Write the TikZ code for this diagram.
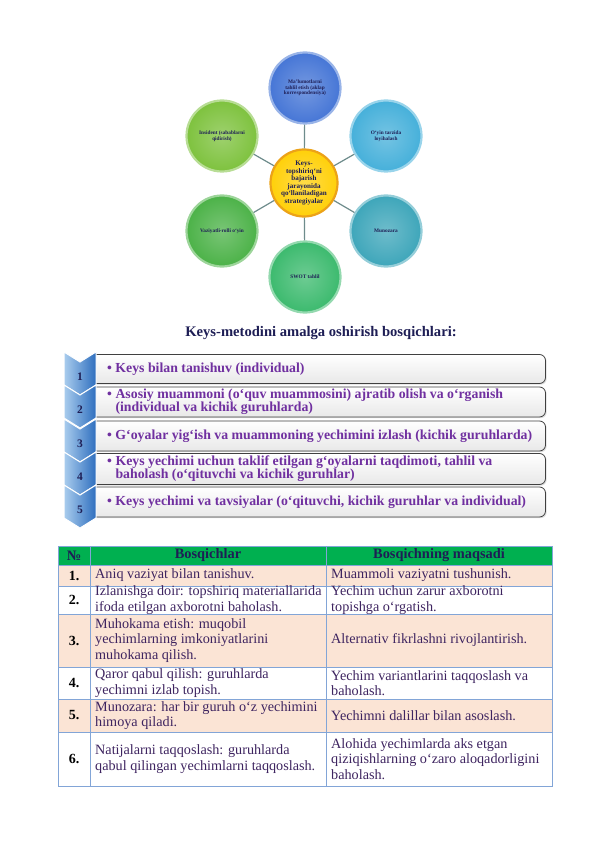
\documentclass[tikz,border=0pt]{standalone}
\usepackage{fontspec}
\setmainfont{Liberation Serif}
\usetikzlibrary{shadows}
\definecolor{cBlue}{RGB}{70,118,214}
\definecolor{cCyan}{RGB}{70,176,218}
\definecolor{cTeal}{RGB}{62,166,186}
\definecolor{cSea}{RGB}{60,186,110}
\definecolor{cGreen}{RGB}{76,178,72}
\definecolor{cLime}{RGB}{126,194,62}
\definecolor{cYel}{RGB}{255,208,10}
\definecolor{cOrg}{RGB}{236,162,24}
\definecolor{cNavy}{RGB}{30,30,85}
\definecolor{cPurp}{RGB}{112,48,160}
\definecolor{cBody}{RGB}{62,36,96}
\definecolor{cHead}{RGB}{0,176,80}
\definecolor{cPeach}{RGB}{251,228,213}
\definecolor{cGrid}{RGB}{130,165,215}
\definecolor{cLink}{RGB}{110,140,140}
\definecolor{chevL}{RGB}{170,205,238}
\definecolor{chevR}{RGB}{46,110,190}
\tikzset{
  circ/.style={circle, minimum size=71pt, inner sep=0pt, align=center,
     font=\fontsize{5.3}{5.7}\selectfont\bfseries, text=cNavy, line width=2.2pt},
  ball/.style={shading=radial, inner color=#1!75!white, outer color=#1, draw=#1!55!white},
  link/.style={draw=cLink, line width=1.2pt},
  stepbox/.style={rounded corners=6pt, draw=black!75, line width=0.8pt,
     top color=white, bottom color=black!9,
     drop shadow={opacity=0.25, shadow xshift=1.2pt, shadow yshift=-1.2pt}},
  steptext/.style={anchor=west, inner sep=0pt, text=cPurp,
     font=\fontsize{13.8}{14}\selectfont\bfseries, align=left},
  chevnum/.style={inner sep=0pt, text=cNavy, font=\fontsize{11.5}{11.5}\selectfont\bfseries},
  cell/.style={anchor=west, inner sep=0pt, text=cBody, align=left,
     font=\fontsize{14.2}{15.6}\selectfont},
  numcell/.style={inner sep=0pt, font=\fontsize{14}{14}\selectfont\bfseries},
  headcell/.style={inner sep=0pt, text=cNavy, font=\fontsize{14.4}{14.4}\selectfont\bfseries}
}
\begin{document}
\begin{tikzpicture}[x=1pt,y=-1pt]
\useasboundingbox[fill=white] (0,0) rectangle (596,842);

% ---------- cluster diagram ----------
\node[circ, ball=cYel, draw=cOrg, minimum size=67pt,
      font=\fontsize{7.1}{7.6}\selectfont\bfseries] (ctr) at (304,183)
  {Keys-\\topshiriq‘ni\\bajarish\\jarayonida\\qo‘llaniladigan\\strategiyalar};
\node[circ, ball=cBlue] (n1) at (305,88) {Ma’lumotlarni\\tahlil etish (aklap\\korrespondensiya)};
\node[circ, ball=cCyan] (n2) at (386,136) {O‘yin tarzida\\loyihalash};
\node[circ, ball=cTeal] (n3) at (386,231) {Munozara};
\node[circ, ball=cSea] (n4) at (305,277) {SWOT tahlil};
\node[circ, ball=cGreen] (n5) at (222,231) {Vaziyatli-rolli o‘yin};
\node[circ, ball=cLime] (n6) at (222,136) {Insident (sabablarni\\qidirish)};
\foreach \n in {n1,n2,n3,n4,n5,n6} \draw[link] (ctr) -- (\n);

% ---------- title ----------
\node[text=cNavy, font=\fontsize{14.6}{15}\selectfont\bfseries] (title) at (321,333)
  {Keys-metodini amalga oshirish bosqichlari:};

% ---------- steps ----------
\node[stepbox, minimum width=455pt, minimum height=29pt] (b1) at (318,369) {};
\node[stepbox, minimum width=455pt, minimum height=30pt] (b2) at (318,402) {};
\node[stepbox, minimum width=455pt, minimum height=30pt] (b3) at (318,436) {};
\node[stepbox, minimum width=455pt, minimum height=31pt] (b4) at (318,469) {};
\node[stepbox, minimum width=455pt, minimum height=30pt] (b5) at (318,502) {};

\node[steptext] (t1) at (107,369) {• Keys bilan tanishuv (individual)};
\node[steptext] (t2) at (107,402) {\begin{tabular}{@{}l@{\hspace{3.5pt}}l@{}}•&Asosiy muammoni (o‘quv muammosini) ajratib olish va o‘rganish\\[-1pt] &(individual va kichik guruhlarda)\end{tabular}};
\node[steptext] (t3) at (107,436) {• G‘oyalar yig‘ish va muammoning yechimini izlash (kichik guruhlarda)};
\node[steptext] (t4) at (107,469) {\begin{tabular}{@{}l@{\hspace{3.5pt}}l@{}}•&Keys yechimi uchun taklif etilgan g‘oyalarni taqdimoti, tahlil va\\[-1pt] &baholash (o‘qituvchi va kichik guruhlar)\end{tabular}};
\node[steptext] (t5) at (107,502) {• Keys yechimi va tavsiyalar (o‘qituvchi, kichik guruhlar va individual)};

\foreach \i/\t in {1/352,2/385,3/419,4/452,5/485}{
  \path[left color=chevL, right color=chevR, draw=white, line width=1pt]
    (64,\t) -- (80,\t+10) -- (96,\t) -- (96,\t+33) -- (80,\t+43) -- (64,\t+33) -- cycle;
  \node[chevnum] (k\i) at (80,\t+24.5) {\i};
}

% ---------- table ----------
\fill[cHead] (58,546) rectangle (552,565);
\fill[cPeach] (58,565) rectangle (552,586);
\fill[cPeach] (58,614) rectangle (552,667);
\fill[cPeach] (58,699) rectangle (552,732);
\draw[cGrid, line width=0.7pt] (58,546) rectangle (552,786);
\foreach \y in {565,586,614,667,699,732} \draw[cGrid, line width=0.7pt] (58,\y) -- (552,\y);
\foreach \x in {90,326} \draw[cGrid, line width=0.7pt] (\x,546) -- (\x,786);

\node[headcell] (h1) at (74,555.5) {№};
\node[headcell] (h2) at (208,555.5) {Bosqichlar};
\node[headcell] (h3) at (439,555.5) {Bosqichning maqsadi};

\node[numcell] (r1) at (74,575.5) {1.};
\node[numcell] (r2) at (74,600) {2.};
\node[numcell] (r3) at (74,640.5) {3.};
\node[numcell] (r4) at (74,683) {4.};
\node[numcell] (r5) at (74,715.5) {5.};
\node[numcell] (r6) at (74,759) {6.};

\node[cell] (a1) at (95,575.5) {Aniq vaziyat bilan tanishuv.};
\node[cell] (a2) at (95,600) {Izlanishga doir: topshiriq materiallarida\\ifoda etilgan axborotni baholash.};
\node[cell] (a3) at (95,640.5) {Muhokama etish: muqobil\\yechimlarning imkoniyatlarini\\muhokama qilish.};
\node[cell] (a4) at (95,683) {Qaror qabul qilish: guruhlarda\\yechimni izlab topish.};
\node[cell] (a5) at (95,715.5) {Munozara: har bir guruh o‘z yechimini\\himoya qiladi.};
\node[cell] (a6) at (95,759) {Natijalarni taqqoslash: guruhlarda\\qabul qilingan yechimlarni taqqoslash.};

\node[cell] (m1) at (331,575.5) {Muammoli vaziyatni tushunish.};
\node[cell] (m2) at (331,600) {Yechim uchun zarur axborotni\\topishga o‘rgatish.};
\node[cell] (m3) at (331,640.5) {Alternativ fikrlashni rivojlantirish.};
\node[cell] (m4) at (331,683) {Yechim variantlarini taqqoslash va\\baholash.};
\node[cell] (m5) at (331,715.5) {Yechimni dalillar bilan asoslash.};
\node[cell] (m6) at (331,759) {Alohida yechimlarda aks etgan\\qiziqishlarning o‘zaro aloqadorligini\\baholash.};
\end{tikzpicture}
\end{document}
